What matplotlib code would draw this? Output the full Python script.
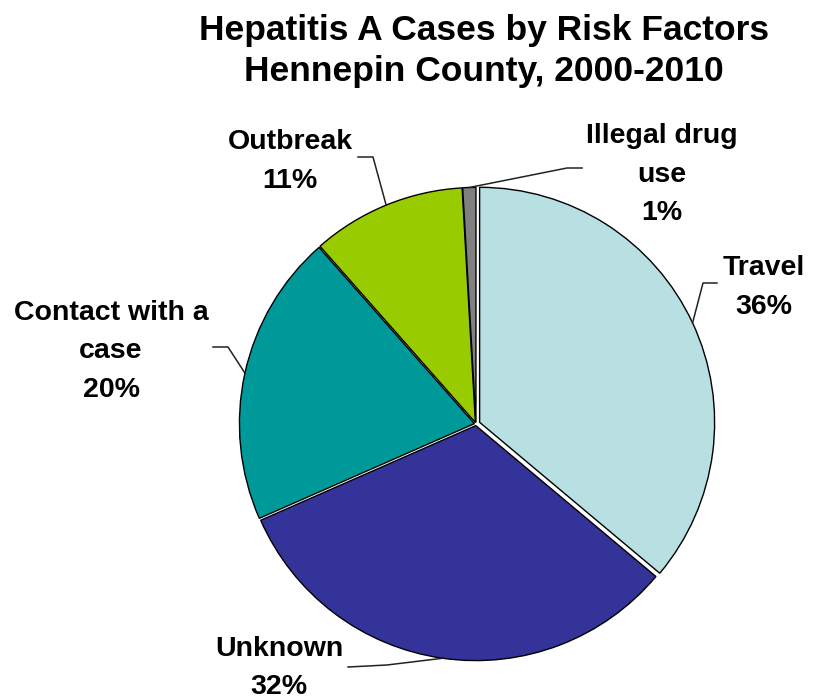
import numpy as np
import matplotlib
matplotlib.use("Agg")
import matplotlib.pyplot as plt

# data
factors = ["Travel", "Unknown", "Contact with a\ncase", "Outbreak", "Illegal drug\nuse"]
shares = [36.1, 32.3, 20.1, 10.6, 0.9]
pct_labels = ["36%", "32%", "20%", "11%", "1%"]
colors = ["#B8DFE2", "#333399", "#009999", "#99CC00", "#808080"]

W, H = 813, 699
fig = plt.figure(figsize=(W / 100, H / 100), dpi=100)
ax = fig.add_axes([0, 0, 1, 1])

def py(y):  # pixel row (top=0) -> data y
    return H - y

cx, cy, R = 476, py(424), 235
# explode is in data units here (pixels), pie does not scale it by radius
wedges, _ = ax.pie(shares, colors=colors, startangle=90, counterclock=False,
                   center=(cx, cy), radius=R,
                   explode=[4, 1.6, 1.6, 1.6, 1.6],
                   wedgeprops=dict(edgecolor="black", linewidth=1.0))
ax.set_xlim(0, W)
ax.set_ylim(0, H)
ax.axis("off")

font = dict(family="Liberation Sans", fontweight="bold", color="black")

ax.text(484, py(40), "Hepatitis A Cases by Risk Factors", ha="center", va="baseline", fontsize=25.5, **font)
ax.text(484, py(81), "Hennepin County, 2000-2010", ha="center", va="baseline", fontsize=25.5, **font)

# label layout: text centre x and first baseline, elbow point, line end
label_pos = [(764, 275), (279, 656), (111, 320), (290, 149), (662, 143)]
elbows = [(703, 283), (387, 665), (228, 347), (373, 157), (567, 168)]
ends = [(717, 283), (348, 667), (213, 347), (358, 157), (582, 168)]

line_gap = 38.5
for w, name, pct, (tx, ty), (ex, ey), (lx, ly) in zip(wedges, factors, pct_labels, label_pos, elbows, ends):
    lines = name.split("\n") + [pct]
    for i, s in enumerate(lines):
        ax.text(tx, py(ty + i * line_gap), s, ha="center", va="baseline", fontsize=20.5, **font)
    mid = np.deg2rad((w.theta1 + w.theta2) / 2)
    ax0, ay0 = w.center[0] + w.r * np.cos(mid), w.center[1] + w.r * np.sin(mid)
    ax.plot([ax0, ex, lx], [ay0, py(ey), py(ly)], color="#222222", linewidth=1.1)

fig.savefig("out.png", dpi=100)
